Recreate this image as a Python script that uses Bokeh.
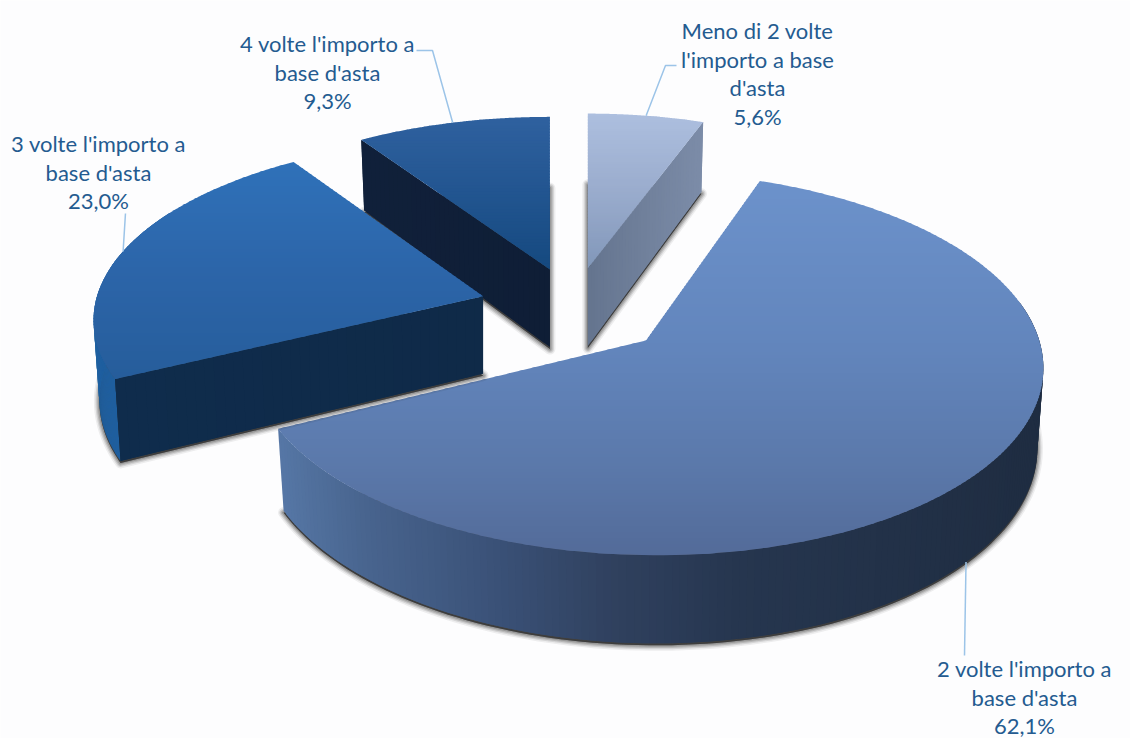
import numpy as np
from bokeh.plotting import figure
from bokeh.models import Range1d, ColumnDataSource
from bokeh.embed import file_html
from bokeh.resources import INLINE
from bokeh.core.properties import value

# ---- data (clockwise from 12 o'clock) ----
categories = [["Meno di 2 volte", "l'importo a base", "d'asta"],
              ["2 volte l'importo a", "base d'asta"],
              ["3 volte l'importo a", "base d'asta"],
              ["4 volte l'importo a", "base d'asta"]]
shares = [5.6, 62.1, 23.0, 9.3]

# ---- styling ----
explode = [0.21, 0.25, 0.24, 0.21]
scale_x = [0.94, 0.993, 0.975, 0.95]
scale_y = [0.918, 1.0, 0.937, 0.905]
shear = [0.0, 0.05, -0.03, 0.0]
top_stops = [
    [(0.0, "#adbfdf"), (0.5, "#9aaccd"), (1.0, "#8197b9")],
    [(0.0, "#6c92cb"), (0.45, "#6285bc"), (0.75, "#5b79ab"), (1.0, "#536b99")],
    [(0.0, "#2f71b9"), (0.5, "#2c65a9"), (1.0, "#265d9b")],
    [(0.0, "#2f619f"), (0.5, "#225590"), (1.0, "#15497f")],
]
side_stops = [
    [(0.0, "#64748e"), (1.0, "#7c8ca8")],
    [(0.0, "#5677a6"), (0.12, "#48648e"), (0.3, "#3a5177"), (0.45, "#30415f"), (0.62, "#26364f"), (1.0, "#1f2d42")],
    [(0.0, "#0f2c4c"), (1.0, "#0f2a48")],
    [(0.0, "#10203a"), (1.0, "#0f1e36")],
]
rim_3_color = "#1f5f9f"
text_color = "#245b90"
leader_color = "#9cc4e8"
font = "Lato"
font_px = 22
line_h = 28.7
# label layout: centre x, first line y
label_pos = [(757, 30), (1024, 668), (98, 143), (327, 43)]
# leader elbows from the arc anchor to the label
elbows = [[(665, 65), (676, 65)], [(964, 655)], [(125, 213)], [(432, 50), (416, 50)]]

C0 = (573.0, 307.8)
EX, EY = 390.0, 192.5
A, B, C, K, M = 396.0, 189.0, 77.5, 0.12, 0.015

# angles
edges = np.cumsum([0.0] + shares) / sum(shares) * 360.0
starts, ends = edges[:-1], edges[1:]
mids = (starts + ends) / 2


def proj(i, t, r=1.0, z=0.0):
    a = np.radians(mids[i])
    ax = C0[0] + EX * explode[i] * np.sin(a)
    ay = C0[1] - EY * explode[i] * np.cos(a)
    tr = np.radians(t)
    U = r * np.sin(tr)
    V = -r * np.cos(tr)
    W = 1 - K * V
    dy = scale_y[i] * B * V / W
    dx = scale_x[i] * A * U / W + shear[i] * dy
    x = ax + dx * (1 - M * z)
    y = ay + dy + C * z / W
    return x, y


def hex2rgb(h):
    return np.array([int(h[j:j + 2], 16) for j in (1, 3, 5)], float)


def ramp(stops, f):
    f = min(max(f, 0.0), 1.0)
    for (f0, c0), (f1, c1) in zip(stops, stops[1:]):
        if f <= f1:
            w = (f - f0) / (f1 - f0)
            c = hex2rgb(c0) * (1 - w) + hex2rgb(c1) * w
            return "#%02x%02x%02x" % tuple(int(round(v)) for v in c)
    return stops[-1][1]


def clip_half(poly, y0, keep_below):
    out = []
    n = len(poly)
    for j in range(n):
        a, b = poly[j], poly[(j + 1) % n]
        ina = a[1] >= y0 if keep_below else a[1] <= y0
        inb = b[1] >= y0 if keep_below else b[1] <= y0
        if ina:
            out.append(a)
        if ina != inb:
            w = (y0 - a[1]) / (b[1] - a[1])
            out.append((a[0] + w * (b[0] - a[0]), y0))
    return out


p = figure(width=1130, height=738, x_range=Range1d(0, 1130), y_range=Range1d(738, 0),
           output_backend="svg", toolbar_location=None, min_border=0,
           background_fill_color="#fdfdfe", border_fill_color="#ffffff", outline_line_color=None)
p.axis.visible = False
p.grid.visible = False


def top_face(i):
    ts = np.linspace(starts[i], ends[i], 160)
    poly = [proj(i, 0, 0.0)] + [proj(i, t) for t in ts]
    ys = [q[1] for q in poly]
    lo, hi = min(ys), max(ys)
    xs_out, ys_out, cols = [], [], []
    for y0 in np.arange(lo, hi, 3.0):
        band = clip_half(clip_half(poly, y0, True), y0 + 4.0, False)
        if len(band) < 3:
            continue
        xs_out.append([q[0] for q in band])
        ys_out.append([q[1] for q in band])
        cols.append(ramp(top_stops[i], (y0 + 1.5 - lo) / (hi - lo)))
    p.patches("x", "y", fill_color="c", line_color=None,
              source=ColumnDataSource(dict(x=xs_out, y=ys_out, c=cols)))


def strips(pairs, colfun):
    """pairs: list of (top point, bottom point); coloured by x"""
    xs_out, ys_out, cols = [], [], []
    for j in range(len(pairs) - 1):
        a0, b0 = pairs[j]
        a1, b1 = pairs[min(j + 2, len(pairs) - 1)]
        xs_out.append([a0[0], a1[0], b1[0], b0[0]])
        ys_out.append([a0[1], a1[1], b1[1], b0[1]])
        cols.append(colfun((a0[0] + a1[0]) / 2))
    p.patches("x", "y", fill_color="c", line_color=None,
              source=ColumnDataSource(dict(x=xs_out, y=ys_out, c=cols)))


def shadow(i, t0, t1):
    ts = np.linspace(t0, t1, 120)
    pts = [proj(i, 0, 0.0, 1.0)] + [proj(i, t, 1.0, 1.0) for t in ts]
    xs = [q[0] for q in pts]
    ys = [q[1] + 2.0 for q in pts]
    for lw, al in ((11, 0.07), (8, 0.12), (5.5, 0.16), (3, 0.2)):
        p.patch(xs, ys, fill_color="#222222", fill_alpha=0.3, line_color="#222222",
                line_alpha=al, line_width=lw, line_join="round")


def plane(i, t, n=40):
    ps = [(proj(i, t, r), proj(i, t, r, 1.0)) for r in np.linspace(0, 1, n)]
    xs = [q[0][0] for q in ps]
    lo, hi = min(xs), max(xs)
    strips(ps, lambda x: ramp(side_stops[i], (x - lo) / (hi - lo)))


def rim(i, t0, t1, colfun, n=170):
    ps = [(proj(i, t), proj(i, t, 1.0, 1.0)) for t in np.linspace(t0, t1, n)]
    strips(ps, colfun)


# paint order: 4 volte, meno, 2 volte, 3 volte
i4 = 3
shadow(i4, starts[i4], ends[i4])
plane(i4, starts[i4])
top_face(i4)
i0 = 0
shadow(i0, starts[i0], ends[i0])
plane(i0, ends[i0])
top_face(i0)
i2 = 1
shadow(i2, 70, ends[i2])
_xl = proj(i2, ends[i2])[0]
_xr = proj(i2, 80)[0]
rim(i2, ends[i2], 78, lambda x: ramp(side_stops[i2], (x - _xl) / (_xr - _xl)))
top_face(i2)
i3 = 2
shadow(i3, starts[i3], ends[i3])
rim(i3, starts[i3], 300, lambda x: rim_3_color)
plane(i3, starts[i3])
top_face(i3)

# leaders (from each slice's mid-arc)
for i in range(4):
    z = 1.0 if i == 1 else 0.0
    ax, ay = proj(i, mids[i], 1.0, z)
    pts = [(ax, ay)] + elbows[i]
    p.line([q[0] for q in pts], [q[1] for q in pts], line_color=leader_color, line_width=1.5)

# labels
tx, ty, tt = [], [], []
for i, lines in enumerate(categories):
    full = lines + [f"{shares[i]:.1f}%".replace(".", ",")]
    for j, s in enumerate(full):
        tx.append(label_pos[i][0])
        ty.append(label_pos[i][1] + j * line_h)
        tt.append(s)
p.text("x", "y", text="t", source=ColumnDataSource(dict(x=tx, y=ty, t=tt)),
       text_font=value(font), text_font_size=f"{font_px}px", text_color=text_color,
       text_align="center", text_baseline="middle")

open("out.html", "w").write(file_html(p, INLINE))
